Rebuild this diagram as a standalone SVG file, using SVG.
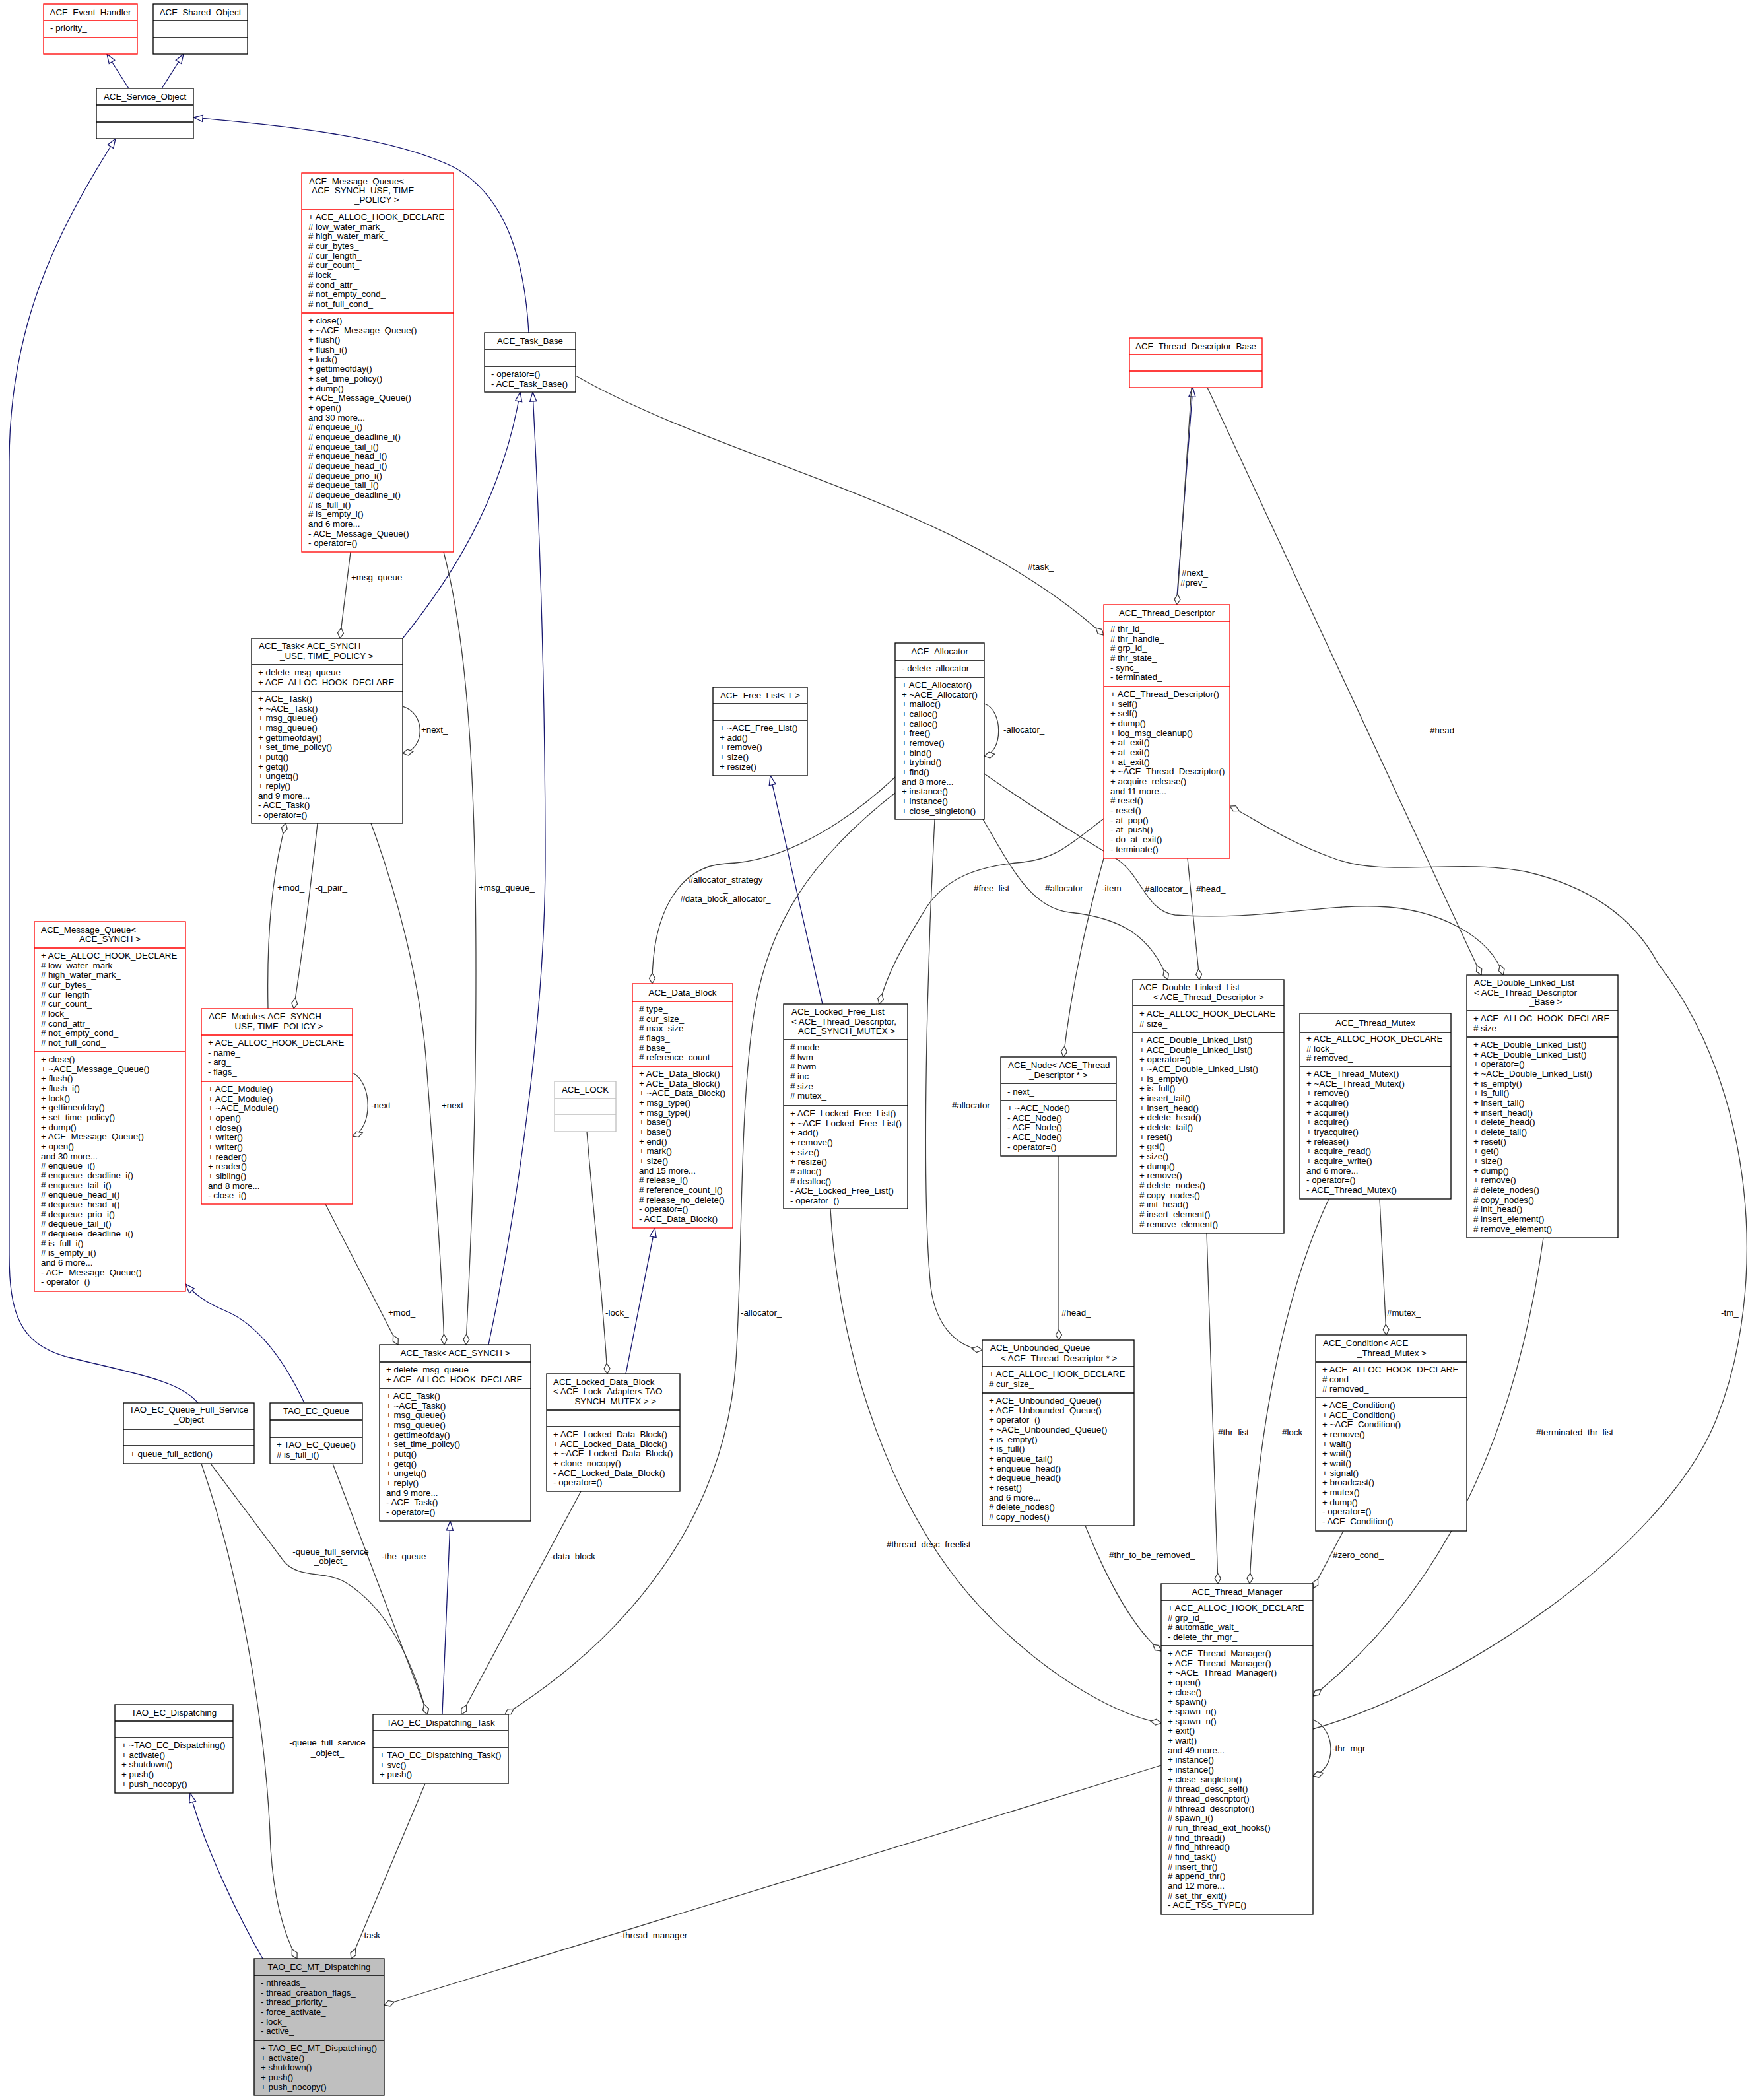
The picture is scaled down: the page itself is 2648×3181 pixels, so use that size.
<svg xmlns="http://www.w3.org/2000/svg" width="2648" height="3181" viewBox="0 0 2648 3181">
<style>
text{font-family:"Liberation Sans",Arial,Helvetica,sans-serif;font-size:13.33px;fill:#000}
.c{text-anchor:middle}
.b{fill:#fff;stroke:#000;stroke-width:1.3}
.r{fill:#fff;stroke:#ff0000;stroke-width:1.3}
.g{fill:#fff;stroke:#bfbfbf;stroke-width:1.3}
.gr{fill:#bfbfbf;stroke:#000;stroke-width:1.3}
.sb{stroke:#000;stroke-width:1.3;fill:none}
.sr{stroke:#ff0000;stroke-width:1.3;fill:none}
.sg{stroke:#bfbfbf;stroke-width:1.3;fill:none}
.inh{fill:none;stroke:#191970;stroke-width:1.3;marker-end:url(#tri)}
.use{fill:none;stroke:#404040;stroke-width:1.3;marker-end:url(#dia)}
</style>
<defs>
<marker id="tri" viewBox="-16 -7 18 14" markerWidth="18" markerHeight="14" refX="0" refY="0" orient="auto" markerUnits="userSpaceOnUse" overflow="visible"><path d="M0,0 L-14,-5 L-14,5 Z" fill="#fff" stroke="#191970" stroke-width="1.3"/></marker>
<marker id="dia" viewBox="-18 -7 20 14" markerWidth="20" markerHeight="14" refX="0" refY="0" orient="auto" markerUnits="userSpaceOnUse" overflow="visible"><path d="M0,0 L-8,-4.5 L-16,0 L-8,4.5 Z" fill="#fff" stroke="#404040" stroke-width="1.3"/></marker>
</defs>
<rect width="2648" height="3181" fill="#fff"/>

<g id="connectors">
<!-- inheritance -->
<path class="inh" d="M195,134 L162,82"/>
<path class="inh" d="M245,134 L278,82"/>
<path class="inh" d="M801,504 C795,400 770,300 689,254 C590,205 420,190 293,178"/>
<path class="inh" d="M300,2125 C270,2090 200,2080 100,2055 C30,2035 14,1990 14,1900 L14,700 C14,500 80,360 175,210"/>
<path class="inh" d="M461,2125 C430,2060 390,2005 340,1985 C310,1972 295,1960 281,1945"/>
<path class="inh" d="M610,967 C680,880 760,760 788,594"/>
<path class="inh" d="M740,2037 C780,1850 826,1550 826,1300 C826,1000 815,750 807,594"/>
<path class="inh" d="M670,2597 L682,2304"/>
<path class="inh" d="M1246,1521 L1167,1175"/>
<path class="inh" d="M948,2081 L992,1860"/>
<path class="inh" d="M398,2967 C365,2910 310,2800 288,2716"/>
<path class="inh" d="M1782,916 L1807,587"/>
<!-- usage -->
<path class="use" d="M531,836 L515,967"/>
<path class="use" d="M672,836 C705,960 721,1150 721,1470 C721,1750 712,1900 706,2037"/>
<path class="use" d="M610,1070 C645,1080 645,1135 610,1141"/>
<path class="use" d="M406,1528 C404,1430 410,1330 433,1247"/>
<path class="use" d="M481,1247 C470,1350 460,1430 445,1528"/>
<path class="use" d="M534,1625 C565,1640 565,1710 534,1721"/>
<path class="use" d="M493,1824 L603,2037"/>
<path class="use" d="M562,1247 C600,1350 635,1480 645,1600 C660,1800 668,1900 673,2037"/>
<path class="use" d="M889,1714 C900,1850 912,1950 920,2081"/>
<path class="use" d="M1356,1177 C1300,1230 1200,1305 1100,1308 C1030,1312 988,1380 988,1490"/>
<path class="use" d="M1491,1066 C1520,1075 1520,1140 1491,1145"/>
<path class="use" d="M1356,1201 C1230,1300 1160,1400 1140,1550 C1120,1700 1125,1900 1115,2060 C1100,2300 950,2480 765,2597"/>
<path class="use" d="M880,2259 L699,2597"/>
<path class="use" d="M504,2217 L648,2597"/>
<path class="use" d="M319,2217 L430,2365 C450,2390 490,2380 520,2395 C580,2430 620,2500 647,2597"/>
<path class="use" d="M305,2217 C375,2420 405,2650 410,2800 C415,2880 430,2930 450,2967"/>
<path class="use" d="M644,2702 L532,2967"/>
<path class="use" d="M1759,2674 L582,3037"/>
<path class="use" d="M872,569 C1100,700 1450,760 1672,962"/>
<path class="use" d="M1829,587 L2244,1477"/>
<path class="use" d="M1805,587 L1783,916"/>
<path class="use" d="M1989,2619 C2200,2560 2520,2350 2600,2150 C2680,1950 2660,1650 2512,1460 C2480,1400 2420,1345 2310,1320 C2200,1300 2100,1330 2020,1300 C1950,1275 1900,1240 1863,1221"/>
<path class="use" d="M1489,1241 C1530,1310 1560,1375 1620,1382 C1700,1390 1745,1420 1769,1484"/>
<path class="use" d="M1491,1172 C1560,1220 1640,1270 1690,1300 C1730,1325 1735,1380 1780,1386 C1900,1395 2000,1370 2086,1373 C2180,1376 2260,1420 2277,1477"/>
<path class="use" d="M1799,1300 L1817,1484"/>
<path class="use" d="M1672,1300 C1650,1380 1625,1480 1611,1601"/>
<path class="use" d="M1672,1240 C1620,1280 1600,1300 1550,1306 C1480,1312 1430,1330 1400,1380 C1370,1430 1345,1470 1332,1521"/>
<path class="use" d="M1604,1751 L1604,2030"/>
<path class="use" d="M1416,1241 C1405,1450 1395,1800 1410,1950 C1418,2010 1450,2040 1488,2045"/>
<path class="use" d="M1828,1868 L1845,2399"/>
<path class="use" d="M2013,1816 C1950,1950 1905,2150 1893,2399"/>
<path class="use" d="M2090,1816 L2100,2022"/>
<path class="use" d="M2035,2319 L1989,2406"/>
<path class="use" d="M2338,1875 C2300,2150 2200,2400 1989,2569"/>
<path class="use" d="M1644,2311 C1680,2400 1720,2470 1759,2501"/>
<path class="use" d="M1258,1831 C1270,2050 1350,2300 1500,2450 C1600,2550 1700,2600 1759,2610"/>
<path class="use" d="M1989,2605 C2025,2620 2025,2680 1989,2690"/>
<!-- labels -->
<text x="532" y="879">+msg_queue_</text>
<text x="725" y="1349">+msg_queue_</text>
<text x="638" y="1110">+next_</text>
<text x="420" y="1349">+mod_</text>
<text x="477" y="1349">-q_pair_</text>
<text x="562" y="1679">-next_</text>
<text x="588" y="1993">+mod_</text>
<text x="669" y="1679">+next_</text>
<text x="917" y="1993">-lock_</text>
<text class="c" x="1099" y="1337">#allocator_strategy</text>
<text class="c" x="1099" y="1351">_</text>
<text class="c" x="1099" y="1366">#data_block_allocator_</text>
<text x="1520" y="1110">-allocator_</text>
<text x="1122" y="1993">-allocator_</text>
<text x="833" y="2362">-data_block_</text>
<text x="578" y="2362">-the_queue_</text>
<text class="c" x="501" y="2355">-queue_full_service</text>
<text class="c" x="501" y="2369">_object_</text>
<text class="c" x="496" y="2644">-queue_full_service</text>
<text class="c" x="496" y="2660">_object_</text>
<text x="547" y="2936">-task_</text>
<text x="939" y="2936">-thread_manager_</text>
<text x="1557" y="863">#task_</text>
<text x="2166" y="1111">#head_</text>
<text x="1790" y="872">#next_</text>
<text x="1788" y="887">#prev_</text>
<text x="2607" y="1993">-tm_</text>
<text x="1583" y="1350">#allocator_</text>
<text x="1734" y="1351">#allocator_</text>
<text x="1812" y="1351">#head_</text>
<text x="1669" y="1350">-item_</text>
<text x="1475" y="1350">#free_list_</text>
<text x="1608" y="1993">#head_</text>
<text x="1442" y="1679">#allocator_</text>
<text x="1845" y="2174">#thr_list_</text>
<text x="1942" y="2174">#lock_</text>
<text x="2101" y="1993">#mutex_</text>
<text x="2019" y="2360">#zero_cond_</text>
<text x="2327" y="2174">#terminated_thr_list_</text>
<text x="1680" y="2360">#thr_to_be_removed_</text>
<text x="1343" y="2344">#thread_desc_freelist_</text>
<text x="2018" y="2653">-thr_mgr_</text>
</g>

<g id="ACE_Event_Handler">
<rect class="r" x="66" y="6" width="142" height="76"/>
<path class="sr" d="M66,31 H208 M66,57 H208"/>
<text class="c" x="137" y="22.5">ACE_Event_Handler</text>
<text x="76" y="47">- priority_</text>
</g>

<g id="ACE_Shared_Object">
<rect class="b" x="232" y="6" width="143" height="76"/>
<path class="sb" d="M232,31 H375 M232,57 H375"/>
<text class="c" x="303.5" y="22.5">ACE_Shared_Object</text>
</g>

<g id="ACE_Service_Object">
<rect class="b" x="146" y="134" width="147" height="76"/>
<path class="sb" d="M146,159 H293 M146,185 H293"/>
<text class="c" x="219.5" y="150.5">ACE_Service_Object</text>
</g>

<g id="ACE_Message_Queue_USE_TP">
<rect class="r" x="457" y="262" width="230" height="574"/>
<path class="sr" d="M457,317 H687 M457,474 H687"/>
<text x="468" y="279">ACE_Message_Queue&lt;</text>
<text x="472" y="293">ACE_SYNCH_USE, TIME</text>
<text x="537" y="307">_POLICY &gt;</text>
<text x="467" y="333"><tspan x="467" dy="0">+ ACE_ALLOC_HOOK_DECLARE</tspan><tspan x="467" dy="14.67"># low_water_mark_</tspan><tspan x="467" dy="14.67"># high_water_mark_</tspan><tspan x="467" dy="14.67"># cur_bytes_</tspan><tspan x="467" dy="14.67"># cur_length_</tspan><tspan x="467" dy="14.67"># cur_count_</tspan><tspan x="467" dy="14.67"># lock_</tspan><tspan x="467" dy="14.67"># cond_attr_</tspan><tspan x="467" dy="14.67"># not_empty_cond_</tspan><tspan x="467" dy="14.67"># not_full_cond_</tspan></text>
<text x="467" y="490"><tspan x="467" dy="0">+ close()</tspan><tspan x="467" dy="14.67">+ ~ACE_Message_Queue()</tspan><tspan x="467" dy="14.67">+ flush()</tspan><tspan x="467" dy="14.67">+ flush_i()</tspan><tspan x="467" dy="14.67">+ lock()</tspan><tspan x="467" dy="14.67">+ gettimeofday()</tspan><tspan x="467" dy="14.67">+ set_time_policy()</tspan><tspan x="467" dy="14.67">+ dump()</tspan><tspan x="467" dy="14.67">+ ACE_Message_Queue()</tspan><tspan x="467" dy="14.67">+ open()</tspan><tspan x="467" dy="14.67">and 30 more...</tspan><tspan x="467" dy="14.67"># enqueue_i()</tspan><tspan x="467" dy="14.67"># enqueue_deadline_i()</tspan><tspan x="467" dy="14.67"># enqueue_tail_i()</tspan><tspan x="467" dy="14.67"># enqueue_head_i()</tspan><tspan x="467" dy="14.67"># dequeue_head_i()</tspan><tspan x="467" dy="14.67"># dequeue_prio_i()</tspan><tspan x="467" dy="14.67"># dequeue_tail_i()</tspan><tspan x="467" dy="14.67"># dequeue_deadline_i()</tspan><tspan x="467" dy="14.67"># is_full_i()</tspan><tspan x="467" dy="14.67"># is_empty_i()</tspan><tspan x="467" dy="14.67">and 6 more...</tspan><tspan x="467" dy="14.67">- ACE_Message_Queue()</tspan><tspan x="467" dy="14.67">- operator=()</tspan></text>
</g>

<g id="ACE_Task_Base">
<rect class="b" x="734" y="504" width="138" height="90"/>
<path class="sb" d="M734,529 H872 M734,555 H872"/>
<text class="c" x="803" y="520.5">ACE_Task_Base</text>
<text x="744" y="571"><tspan x="744" dy="0">- operator=()</tspan><tspan x="744" dy="14.67">- ACE_Task_Base()</tspan></text>
</g>

<g id="ACE_Task_USE_TP">
<rect class="b" x="381" y="967" width="229" height="280"/>
<path class="sb" d="M381,1007 H610 M381,1047 H610"/>
<text x="392" y="983">ACE_Task&lt; ACE_SYNCH</text>
<text x="424" y="998">_USE, TIME_POLICY &gt;</text>
<text x="391" y="1023"><tspan x="391" dy="0">+ delete_msg_queue_</tspan><tspan x="391" dy="14.67">+ ACE_ALLOC_HOOK_DECLARE</tspan></text>
<text x="391" y="1063"><tspan x="391" dy="0">+ ACE_Task()</tspan><tspan x="391" dy="14.67">+ ~ACE_Task()</tspan><tspan x="391" dy="14.67">+ msg_queue()</tspan><tspan x="391" dy="14.67">+ msg_queue()</tspan><tspan x="391" dy="14.67">+ gettimeofday()</tspan><tspan x="391" dy="14.67">+ set_time_policy()</tspan><tspan x="391" dy="14.67">+ putq()</tspan><tspan x="391" dy="14.67">+ getq()</tspan><tspan x="391" dy="14.67">+ ungetq()</tspan><tspan x="391" dy="14.67">+ reply()</tspan><tspan x="391" dy="14.67">and 9 more...</tspan><tspan x="391" dy="14.67">- ACE_Task()</tspan><tspan x="391" dy="14.67">- operator=()</tspan></text>
</g>

<g id="ACE_Message_Queue_SYNCH">
<rect class="r" x="52" y="1396" width="229" height="560"/>
<path class="sr" d="M52,1436 H281 M52,1593 H281"/>
<text x="62" y="1413">ACE_Message_Queue&lt;</text>
<text x="120" y="1427">ACE_SYNCH &gt;</text>
<text x="62" y="1452"><tspan x="62" dy="0">+ ACE_ALLOC_HOOK_DECLARE</tspan><tspan x="62" dy="14.67"># low_water_mark_</tspan><tspan x="62" dy="14.67"># high_water_mark_</tspan><tspan x="62" dy="14.67"># cur_bytes_</tspan><tspan x="62" dy="14.67"># cur_length_</tspan><tspan x="62" dy="14.67"># cur_count_</tspan><tspan x="62" dy="14.67"># lock_</tspan><tspan x="62" dy="14.67"># cond_attr_</tspan><tspan x="62" dy="14.67"># not_empty_cond_</tspan><tspan x="62" dy="14.67"># not_full_cond_</tspan></text>
<text x="62" y="1609"><tspan x="62" dy="0">+ close()</tspan><tspan x="62" dy="14.67">+ ~ACE_Message_Queue()</tspan><tspan x="62" dy="14.67">+ flush()</tspan><tspan x="62" dy="14.67">+ flush_i()</tspan><tspan x="62" dy="14.67">+ lock()</tspan><tspan x="62" dy="14.67">+ gettimeofday()</tspan><tspan x="62" dy="14.67">+ set_time_policy()</tspan><tspan x="62" dy="14.67">+ dump()</tspan><tspan x="62" dy="14.67">+ ACE_Message_Queue()</tspan><tspan x="62" dy="14.67">+ open()</tspan><tspan x="62" dy="14.67">and 30 more...</tspan><tspan x="62" dy="14.67"># enqueue_i()</tspan><tspan x="62" dy="14.67"># enqueue_deadline_i()</tspan><tspan x="62" dy="14.67"># enqueue_tail_i()</tspan><tspan x="62" dy="14.67"># enqueue_head_i()</tspan><tspan x="62" dy="14.67"># dequeue_head_i()</tspan><tspan x="62" dy="14.67"># dequeue_prio_i()</tspan><tspan x="62" dy="14.67"># dequeue_tail_i()</tspan><tspan x="62" dy="14.67"># dequeue_deadline_i()</tspan><tspan x="62" dy="14.67"># is_full_i()</tspan><tspan x="62" dy="14.67"># is_empty_i()</tspan><tspan x="62" dy="14.67">and 6 more...</tspan><tspan x="62" dy="14.67">- ACE_Message_Queue()</tspan><tspan x="62" dy="14.67">- operator=()</tspan></text>
</g>

<g id="ACE_Module">
<rect class="r" x="305" y="1528" width="229" height="296"/>
<path class="sr" d="M305,1568 H534 M305,1638 H534"/>
<text x="316" y="1544">ACE_Module&lt; ACE_SYNCH</text>
<text x="348" y="1559">_USE, TIME_POLICY &gt;</text>
<text x="315" y="1584"><tspan x="315" dy="0">+ ACE_ALLOC_HOOK_DECLARE</tspan><tspan x="315" dy="14.67">- name_</tspan><tspan x="315" dy="14.67">- arg_</tspan><tspan x="315" dy="14.67">- flags_</tspan></text>
<text x="315" y="1654"><tspan x="315" dy="0">+ ACE_Module()</tspan><tspan x="315" dy="14.67">+ ACE_Module()</tspan><tspan x="315" dy="14.67">+ ~ACE_Module()</tspan><tspan x="315" dy="14.67">+ open()</tspan><tspan x="315" dy="14.67">+ close()</tspan><tspan x="315" dy="14.67">+ writer()</tspan><tspan x="315" dy="14.67">+ writer()</tspan><tspan x="315" dy="14.67">+ reader()</tspan><tspan x="315" dy="14.67">+ reader()</tspan><tspan x="315" dy="14.67">+ sibling()</tspan><tspan x="315" dy="14.67">and 8 more...</tspan><tspan x="315" dy="14.67">- close_i()</tspan></text>
</g>

<g id="ACE_Task_SYNCH">
<rect class="b" x="575" y="2037" width="229" height="267"/>
<path class="sb" d="M575,2063 H804 M575,2103 H804"/>
<text class="c" x="689.5" y="2054">ACE_Task&lt; ACE_SYNCH &gt;</text>
<text x="585" y="2079"><tspan x="585" dy="0">+ delete_msg_queue_</tspan><tspan x="585" dy="14.67">+ ACE_ALLOC_HOOK_DECLARE</tspan></text>
<text x="585" y="2119"><tspan x="585" dy="0">+ ACE_Task()</tspan><tspan x="585" dy="14.67">+ ~ACE_Task()</tspan><tspan x="585" dy="14.67">+ msg_queue()</tspan><tspan x="585" dy="14.67">+ msg_queue()</tspan><tspan x="585" dy="14.67">+ gettimeofday()</tspan><tspan x="585" dy="14.67">+ set_time_policy()</tspan><tspan x="585" dy="14.67">+ putq()</tspan><tspan x="585" dy="14.67">+ getq()</tspan><tspan x="585" dy="14.67">+ ungetq()</tspan><tspan x="585" dy="14.67">+ reply()</tspan><tspan x="585" dy="14.67">and 9 more...</tspan><tspan x="585" dy="14.67">- ACE_Task()</tspan><tspan x="585" dy="14.67">- operator=()</tspan></text>
</g>

<g id="ACE_LOCK">
<rect class="g" x="840" y="1638" width="93" height="76"/>
<path class="sg" d="M840,1664 H933 M840,1688 H933"/>
<text class="c" x="886.5" y="1655">ACE_LOCK</text>
</g>

<g id="ACE_Data_Block">
<rect class="r" x="958" y="1490" width="152" height="370"/>
<path class="sr" d="M958,1517 H1110 M958,1615 H1110"/>
<text class="c" x="1034" y="1508">ACE_Data_Block</text>
<text x="968" y="1533"><tspan x="968" dy="0"># type_</tspan><tspan x="968" dy="14.67"># cur_size_</tspan><tspan x="968" dy="14.67"># max_size_</tspan><tspan x="968" dy="14.67"># flags_</tspan><tspan x="968" dy="14.67"># base_</tspan><tspan x="968" dy="14.67"># reference_count_</tspan></text>
<text x="968" y="1631"><tspan x="968" dy="0">+ ACE_Data_Block()</tspan><tspan x="968" dy="14.67">+ ACE_Data_Block()</tspan><tspan x="968" dy="14.67">+ ~ACE_Data_Block()</tspan><tspan x="968" dy="14.67">+ msg_type()</tspan><tspan x="968" dy="14.67">+ msg_type()</tspan><tspan x="968" dy="14.67">+ base()</tspan><tspan x="968" dy="14.67">+ base()</tspan><tspan x="968" dy="14.67">+ end()</tspan><tspan x="968" dy="14.67">+ mark()</tspan><tspan x="968" dy="14.67">+ size()</tspan><tspan x="968" dy="14.67">and 15 more...</tspan><tspan x="968" dy="14.67"># release_i()</tspan><tspan x="968" dy="14.67"># reference_count_i()</tspan><tspan x="968" dy="14.67"># release_no_delete()</tspan><tspan x="968" dy="14.67">- operator=()</tspan><tspan x="968" dy="14.67">- ACE_Data_Block()</tspan></text>
</g>

<g id="ACE_Locked_Data_Block">
<rect class="b" x="828" y="2081" width="202" height="178"/>
<path class="sb" d="M828,2136 H1030 M828,2161 H1030"/>
<text x="838" y="2098">ACE_Locked_Data_Block</text>
<text x="838" y="2112">&lt; ACE_Lock_Adapter&lt; TAO</text>
<text x="863" y="2127">_SYNCH_MUTEX &gt; &gt;</text>
<text x="838" y="2177"><tspan x="838" dy="0">+ ACE_Locked_Data_Block()</tspan><tspan x="838" dy="14.67">+ ACE_Locked_Data_Block()</tspan><tspan x="838" dy="14.67">+ ~ACE_Locked_Data_Block()</tspan><tspan x="838" dy="14.67">+ clone_nocopy()</tspan><tspan x="838" dy="14.67">- ACE_Locked_Data_Block()</tspan><tspan x="838" dy="14.67">- operator=()</tspan></text>
</g>

<g id="ACE_Allocator">
<rect class="b" x="1356" y="974" width="135" height="267"/>
<path class="sb" d="M1356,1000 H1491 M1356,1026 H1491"/>
<text class="c" x="1423.5" y="991">ACE_Allocator</text>
<text x="1366" y="1017">- delete_allocator_</text>
<text x="1366" y="1042"><tspan x="1366" dy="0">+ ACE_Allocator()</tspan><tspan x="1366" dy="14.67">+ ~ACE_Allocator()</tspan><tspan x="1366" dy="14.67">+ malloc()</tspan><tspan x="1366" dy="14.67">+ calloc()</tspan><tspan x="1366" dy="14.67">+ calloc()</tspan><tspan x="1366" dy="14.67">+ free()</tspan><tspan x="1366" dy="14.67">+ remove()</tspan><tspan x="1366" dy="14.67">+ bind()</tspan><tspan x="1366" dy="14.67">+ trybind()</tspan><tspan x="1366" dy="14.67">+ find()</tspan><tspan x="1366" dy="14.67">and 8 more...</tspan><tspan x="1366" dy="14.67">+ instance()</tspan><tspan x="1366" dy="14.67">+ instance()</tspan><tspan x="1366" dy="14.67">+ close_singleton()</tspan></text>
</g>

<g id="ACE_Free_List">
<rect class="b" x="1080" y="1041" width="143" height="134"/>
<path class="sb" d="M1080,1066 H1223 M1080,1091 H1223"/>
<text class="c" x="1151.5" y="1058">ACE_Free_List&lt; T &gt;</text>
<text x="1090" y="1107"><tspan x="1090" dy="0">+ ~ACE_Free_List()</tspan><tspan x="1090" dy="14.67">+ add()</tspan><tspan x="1090" dy="14.67">+ remove()</tspan><tspan x="1090" dy="14.67">+ size()</tspan><tspan x="1090" dy="14.67">+ resize()</tspan></text>
</g>

<g id="ACE_Locked_Free_List">
<rect class="b" x="1187" y="1521" width="188" height="310"/>
<path class="sb" d="M1187,1575 H1375 M1187,1675 H1375"/>
<text x="1199" y="1537">ACE_Locked_Free_List</text>
<text x="1199" y="1552">&lt; ACE_Thread_Descriptor,</text>
<text x="1209" y="1566">ACE_SYNCH_MUTEX &gt;</text>
<text x="1197" y="1591"><tspan x="1197" dy="0"># mode_</tspan><tspan x="1197" dy="14.67"># lwm_</tspan><tspan x="1197" dy="14.67"># hwm_</tspan><tspan x="1197" dy="14.67"># inc_</tspan><tspan x="1197" dy="14.67"># size_</tspan><tspan x="1197" dy="14.67"># mutex_</tspan></text>
<text x="1197" y="1691"><tspan x="1197" dy="0">+ ACE_Locked_Free_List()</tspan><tspan x="1197" dy="14.67">+ ~ACE_Locked_Free_List()</tspan><tspan x="1197" dy="14.67">+ add()</tspan><tspan x="1197" dy="14.67">+ remove()</tspan><tspan x="1197" dy="14.67">+ size()</tspan><tspan x="1197" dy="14.67">+ resize()</tspan><tspan x="1197" dy="14.67"># alloc()</tspan><tspan x="1197" dy="14.67"># dealloc()</tspan><tspan x="1197" dy="14.67">- ACE_Locked_Free_List()</tspan><tspan x="1197" dy="14.67">- operator=()</tspan></text>
</g>

<g id="ACE_Thread_Descriptor_Base">
<rect class="r" x="1711" y="512" width="201" height="75"/>
<path class="sr" d="M1711,537 H1912 M1711,562 H1912"/>
<text class="c" x="1811.5" y="529">ACE_Thread_Descriptor_Base</text>
</g>

<g id="ACE_Thread_Descriptor">
<rect class="r" x="1672" y="916" width="191" height="384"/>
<path class="sr" d="M1672,941 H1863 M1672,1040 H1863"/>
<text class="c" x="1767.5" y="932.5">ACE_Thread_Descriptor</text>
<text x="1682" y="957"><tspan x="1682" dy="0"># thr_id_</tspan><tspan x="1682" dy="14.67"># thr_handle_</tspan><tspan x="1682" dy="14.67"># grp_id_</tspan><tspan x="1682" dy="14.67"># thr_state_</tspan><tspan x="1682" dy="14.67">- sync_</tspan><tspan x="1682" dy="14.67">- terminated_</tspan></text>
<text x="1682" y="1056"><tspan x="1682" dy="0">+ ACE_Thread_Descriptor()</tspan><tspan x="1682" dy="14.67">+ self()</tspan><tspan x="1682" dy="14.67">+ self()</tspan><tspan x="1682" dy="14.67">+ dump()</tspan><tspan x="1682" dy="14.67">+ log_msg_cleanup()</tspan><tspan x="1682" dy="14.67">+ at_exit()</tspan><tspan x="1682" dy="14.67">+ at_exit()</tspan><tspan x="1682" dy="14.67">+ at_exit()</tspan><tspan x="1682" dy="14.67">+ ~ACE_Thread_Descriptor()</tspan><tspan x="1682" dy="14.67">+ acquire_release()</tspan><tspan x="1682" dy="14.67">and 11 more...</tspan><tspan x="1682" dy="14.67"># reset()</tspan><tspan x="1682" dy="14.67">- reset()</tspan><tspan x="1682" dy="14.67">- at_pop()</tspan><tspan x="1682" dy="14.67">- at_push()</tspan><tspan x="1682" dy="14.67">- do_at_exit()</tspan><tspan x="1682" dy="14.67">- terminate()</tspan></text>
</g>

<g id="ACE_Node">
<rect class="b" x="1516" y="1601" width="175" height="150"/>
<path class="sb" d="M1516,1641 H1691 M1516,1667 H1691"/>
<text x="1527" y="1618">ACE_Node&lt; ACE_Thread</text>
<text x="1559" y="1633">_Descriptor * &gt;</text>
<text x="1526" y="1658">- next_</text>
<text x="1526" y="1683"><tspan x="1526" dy="0">+ ~ACE_Node()</tspan><tspan x="1526" dy="14.67">- ACE_Node()</tspan><tspan x="1526" dy="14.67">- ACE_Node()</tspan><tspan x="1526" dy="14.67">- ACE_Node()</tspan><tspan x="1526" dy="14.67">- operator=()</tspan></text>
</g>

<g id="ACE_Double_Linked_List_TD">
<rect class="b" x="1716" y="1484" width="229" height="384"/>
<path class="sb" d="M1716,1523 H1945 M1716,1564 H1945"/>
<text x="1726" y="1500">ACE_Double_Linked_List</text>
<text x="1747" y="1515">&lt; ACE_Thread_Descriptor &gt;</text>
<text x="1726" y="1540"><tspan x="1726" dy="0">+ ACE_ALLOC_HOOK_DECLARE</tspan><tspan x="1726" dy="14.67"># size_</tspan></text>
<text x="1726" y="1580"><tspan x="1726" dy="0">+ ACE_Double_Linked_List()</tspan><tspan x="1726" dy="14.67">+ ACE_Double_Linked_List()</tspan><tspan x="1726" dy="14.67">+ operator=()</tspan><tspan x="1726" dy="14.67">+ ~ACE_Double_Linked_List()</tspan><tspan x="1726" dy="14.67">+ is_empty()</tspan><tspan x="1726" dy="14.67">+ is_full()</tspan><tspan x="1726" dy="14.67">+ insert_tail()</tspan><tspan x="1726" dy="14.67">+ insert_head()</tspan><tspan x="1726" dy="14.67">+ delete_head()</tspan><tspan x="1726" dy="14.67">+ delete_tail()</tspan><tspan x="1726" dy="14.67">+ reset()</tspan><tspan x="1726" dy="14.67">+ get()</tspan><tspan x="1726" dy="14.67">+ size()</tspan><tspan x="1726" dy="14.67">+ dump()</tspan><tspan x="1726" dy="14.67">+ remove()</tspan><tspan x="1726" dy="14.67"># delete_nodes()</tspan><tspan x="1726" dy="14.67"># copy_nodes()</tspan><tspan x="1726" dy="14.67"># init_head()</tspan><tspan x="1726" dy="14.67"># insert_element()</tspan><tspan x="1726" dy="14.67"># remove_element()</tspan></text>
</g>

<g id="ACE_Thread_Mutex">
<rect class="b" x="1969" y="1535" width="229" height="281"/>
<path class="sb" d="M1969,1564 H2198 M1969,1615 H2198"/>
<text class="c" x="2083.5" y="1554">ACE_Thread_Mutex</text>
<text x="1979" y="1578"><tspan x="1979" dy="0">+ ACE_ALLOC_HOOK_DECLARE</tspan><tspan x="1979" dy="14.67"># lock_</tspan><tspan x="1979" dy="14.67"># removed_</tspan></text>
<text x="1979" y="1631"><tspan x="1979" dy="0">+ ACE_Thread_Mutex()</tspan><tspan x="1979" dy="14.67">+ ~ACE_Thread_Mutex()</tspan><tspan x="1979" dy="14.67">+ remove()</tspan><tspan x="1979" dy="14.67">+ acquire()</tspan><tspan x="1979" dy="14.67">+ acquire()</tspan><tspan x="1979" dy="14.67">+ acquire()</tspan><tspan x="1979" dy="14.67">+ tryacquire()</tspan><tspan x="1979" dy="14.67">+ release()</tspan><tspan x="1979" dy="14.67">+ acquire_read()</tspan><tspan x="1979" dy="14.67">+ acquire_write()</tspan><tspan x="1979" dy="14.67">and 6 more...</tspan><tspan x="1979" dy="14.67">- operator=()</tspan><tspan x="1979" dy="14.67">- ACE_Thread_Mutex()</tspan></text>
</g>

<g id="ACE_Double_Linked_List_TDB">
<rect class="b" x="2222" y="1477" width="229" height="398"/>
<path class="sb" d="M2222,1531 H2451 M2222,1571 H2451"/>
<text x="2233" y="1493">ACE_Double_Linked_List</text>
<text x="2233" y="1508">&lt; ACE_Thread_Descriptor</text>
<text x="2317" y="1522">_Base &gt;</text>
<text x="2232" y="1547"><tspan x="2232" dy="0">+ ACE_ALLOC_HOOK_DECLARE</tspan><tspan x="2232" dy="14.67"># size_</tspan></text>
<text x="2232" y="1587"><tspan x="2232" dy="0">+ ACE_Double_Linked_List()</tspan><tspan x="2232" dy="14.67">+ ACE_Double_Linked_List()</tspan><tspan x="2232" dy="14.67">+ operator=()</tspan><tspan x="2232" dy="14.67">+ ~ACE_Double_Linked_List()</tspan><tspan x="2232" dy="14.67">+ is_empty()</tspan><tspan x="2232" dy="14.67">+ is_full()</tspan><tspan x="2232" dy="14.67">+ insert_tail()</tspan><tspan x="2232" dy="14.67">+ insert_head()</tspan><tspan x="2232" dy="14.67">+ delete_head()</tspan><tspan x="2232" dy="14.67">+ delete_tail()</tspan><tspan x="2232" dy="14.67">+ reset()</tspan><tspan x="2232" dy="14.67">+ get()</tspan><tspan x="2232" dy="14.67">+ size()</tspan><tspan x="2232" dy="14.67">+ dump()</tspan><tspan x="2232" dy="14.67">+ remove()</tspan><tspan x="2232" dy="14.67"># delete_nodes()</tspan><tspan x="2232" dy="14.67"># copy_nodes()</tspan><tspan x="2232" dy="14.67"># init_head()</tspan><tspan x="2232" dy="14.67"># insert_element()</tspan><tspan x="2232" dy="14.67"># remove_element()</tspan></text>
</g>

<g id="ACE_Unbounded_Queue">
<rect class="b" x="1488" y="2030" width="230" height="281"/>
<path class="sb" d="M1488,2070 H1718 M1488,2110 H1718"/>
<text x="1500" y="2046">ACE_Unbounded_Queue</text>
<text x="1516" y="2062">&lt; ACE_Thread_Descriptor * &gt;</text>
<text x="1498" y="2086"><tspan x="1498" dy="0">+ ACE_ALLOC_HOOK_DECLARE</tspan><tspan x="1498" dy="14.67"># cur_size_</tspan></text>
<text x="1498" y="2126"><tspan x="1498" dy="0">+ ACE_Unbounded_Queue()</tspan><tspan x="1498" dy="14.67">+ ACE_Unbounded_Queue()</tspan><tspan x="1498" dy="14.67">+ operator=()</tspan><tspan x="1498" dy="14.67">+ ~ACE_Unbounded_Queue()</tspan><tspan x="1498" dy="14.67">+ is_empty()</tspan><tspan x="1498" dy="14.67">+ is_full()</tspan><tspan x="1498" dy="14.67">+ enqueue_tail()</tspan><tspan x="1498" dy="14.67">+ enqueue_head()</tspan><tspan x="1498" dy="14.67">+ dequeue_head()</tspan><tspan x="1498" dy="14.67">+ reset()</tspan><tspan x="1498" dy="14.67">and 6 more...</tspan><tspan x="1498" dy="14.67"># delete_nodes()</tspan><tspan x="1498" dy="14.67"># copy_nodes()</tspan></text>
</g>

<g id="ACE_Condition">
<rect class="b" x="1993" y="2022" width="229" height="297"/>
<path class="sb" d="M1993,2063 H2222 M1993,2117 H2222"/>
<text x="2004" y="2039">ACE_Condition&lt; ACE</text>
<text x="2056" y="2054">_Thread_Mutex &gt;</text>
<text x="2003" y="2079"><tspan x="2003" dy="0">+ ACE_ALLOC_HOOK_DECLARE</tspan><tspan x="2003" dy="14.67"># cond_</tspan><tspan x="2003" dy="14.67"># removed_</tspan></text>
<text x="2003" y="2133"><tspan x="2003" dy="0">+ ACE_Condition()</tspan><tspan x="2003" dy="14.67">+ ACE_Condition()</tspan><tspan x="2003" dy="14.67">+ ~ACE_Condition()</tspan><tspan x="2003" dy="14.67">+ remove()</tspan><tspan x="2003" dy="14.67">+ wait()</tspan><tspan x="2003" dy="14.67">+ wait()</tspan><tspan x="2003" dy="14.67">+ wait()</tspan><tspan x="2003" dy="14.67">+ signal()</tspan><tspan x="2003" dy="14.67">+ broadcast()</tspan><tspan x="2003" dy="14.67">+ mutex()</tspan><tspan x="2003" dy="14.67">+ dump()</tspan><tspan x="2003" dy="14.67">- operator=()</tspan><tspan x="2003" dy="14.67">- ACE_Condition()</tspan></text>
</g>

<g id="ACE_Thread_Manager">
<rect class="b" x="1759" y="2399" width="230" height="501"/>
<path class="sb" d="M1759,2424 H1989 M1759,2493 H1989"/>
<text class="c" x="1874" y="2416">ACE_Thread_Manager</text>
<text x="1769" y="2440"><tspan x="1769" dy="0">+ ACE_ALLOC_HOOK_DECLARE</tspan><tspan x="1769" dy="14.67"># grp_id_</tspan><tspan x="1769" dy="14.67"># automatic_wait_</tspan><tspan x="1769" dy="14.67">- delete_thr_mgr_</tspan></text>
<text x="1769" y="2509"><tspan x="1769" dy="0">+ ACE_Thread_Manager()</tspan><tspan x="1769" dy="14.67">+ ACE_Thread_Manager()</tspan><tspan x="1769" dy="14.67">+ ~ACE_Thread_Manager()</tspan><tspan x="1769" dy="14.67">+ open()</tspan><tspan x="1769" dy="14.67">+ close()</tspan><tspan x="1769" dy="14.67">+ spawn()</tspan><tspan x="1769" dy="14.67">+ spawn_n()</tspan><tspan x="1769" dy="14.67">+ spawn_n()</tspan><tspan x="1769" dy="14.67">+ exit()</tspan><tspan x="1769" dy="14.67">+ wait()</tspan><tspan x="1769" dy="14.67">and 49 more...</tspan><tspan x="1769" dy="14.67">+ instance()</tspan><tspan x="1769" dy="14.67">+ instance()</tspan><tspan x="1769" dy="14.67">+ close_singleton()</tspan><tspan x="1769" dy="14.67"># thread_desc_self()</tspan><tspan x="1769" dy="14.67"># thread_descriptor()</tspan><tspan x="1769" dy="14.67"># hthread_descriptor()</tspan><tspan x="1769" dy="14.67"># spawn_i()</tspan><tspan x="1769" dy="14.67"># run_thread_exit_hooks()</tspan><tspan x="1769" dy="14.67"># find_thread()</tspan><tspan x="1769" dy="14.67"># find_hthread()</tspan><tspan x="1769" dy="14.67"># find_task()</tspan><tspan x="1769" dy="14.67"># insert_thr()</tspan><tspan x="1769" dy="14.67"># append_thr()</tspan><tspan x="1769" dy="14.67">and 12 more...</tspan><tspan x="1769" dy="14.67"># set_thr_exit()</tspan><tspan x="1769" dy="14.67">- ACE_TSS_TYPE()</tspan></text>
</g>

<g id="TAO_EC_Queue_Full_Service_Object">
<rect class="b" x="187" y="2125" width="198" height="92"/>
<path class="sb" d="M187,2165 H385 M187,2190 H385"/>
<text class="c" x="286" y="2140">TAO_EC_Queue_Full_Service</text>
<text class="c" x="286" y="2155">_Object</text>
<text x="197" y="2207">+ queue_full_action()</text>
</g>

<g id="TAO_EC_Queue">
<rect class="b" x="409" y="2125" width="140" height="92"/>
<path class="sb" d="M409,2151 H549 M409,2177 H549"/>
<text class="c" x="479" y="2142">TAO_EC_Queue</text>
<text x="419" y="2193"><tspan x="419" dy="0">+ TAO_EC_Queue()</tspan><tspan x="419" dy="14.67"># is_full_i()</tspan></text>
</g>

<g id="TAO_EC_Dispatching">
<rect class="b" x="174" y="2582" width="179" height="134"/>
<path class="sb" d="M174,2607 H353 M174,2632 H353"/>
<text class="c" x="263.5" y="2599">TAO_EC_Dispatching</text>
<text x="184" y="2648"><tspan x="184" dy="0">+ ~TAO_EC_Dispatching()</tspan><tspan x="184" dy="14.67">+ activate()</tspan><tspan x="184" dy="14.67">+ shutdown()</tspan><tspan x="184" dy="14.67">+ push()</tspan><tspan x="184" dy="14.67">+ push_nocopy()</tspan></text>
</g>

<g id="TAO_EC_Dispatching_Task">
<rect class="b" x="565" y="2597" width="205" height="105"/>
<path class="sb" d="M565,2621 H770 M565,2647 H770"/>
<text class="c" x="667.5" y="2614">TAO_EC_Dispatching_Task</text>
<text x="575" y="2663"><tspan x="575" dy="0">+ TAO_EC_Dispatching_Task()</tspan><tspan x="575" dy="14.67">+ svc()</tspan><tspan x="575" dy="14.67">+ push()</tspan></text>
</g>

<g id="TAO_EC_MT_Dispatching">
<rect class="gr" x="385" y="2967" width="197" height="207"/>
<path class="sb" d="M385,2992 H582 M385,3091 H582"/>
<text class="c" x="483.5" y="2984">TAO_EC_MT_Dispatching</text>
<text x="395" y="3008"><tspan x="395" dy="0">- nthreads_</tspan><tspan x="395" dy="14.67">- thread_creation_flags_</tspan><tspan x="395" dy="14.67">- thread_priority_</tspan><tspan x="395" dy="14.67">- force_activate_</tspan><tspan x="395" dy="14.67">- lock_</tspan><tspan x="395" dy="14.67">- active_</tspan></text>
<text x="395" y="3107"><tspan x="395" dy="0">+ TAO_EC_MT_Dispatching()</tspan><tspan x="395" dy="14.67">+ activate()</tspan><tspan x="395" dy="14.67">+ shutdown()</tspan><tspan x="395" dy="14.67">+ push()</tspan><tspan x="395" dy="14.67">+ push_nocopy()</tspan></text>
</g>
</svg>
